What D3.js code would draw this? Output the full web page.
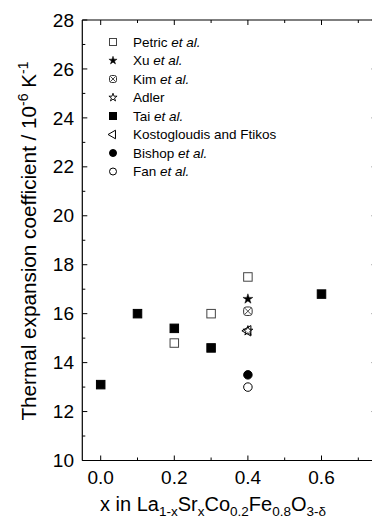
<!DOCTYPE html>
<html><head><meta charset="utf-8">
<script src="https://cdn.jsdelivr.net/npm/d3@7"></script>
<style>body{margin:0;background:#fff}svg{display:block;font-family:"Liberation Sans",Arial,sans-serif}</style>
</head><body>
<script>
const seriesNames = ["Petric", "Xu", "Kim", "Adler", "Tai", "Kostogloudis and Ftikos", "Bishop", "Fan"];
const seriesEtAl = [true, true, true, false, true, false, true, true];
const seriesShapes = ["openSquare", "filledStar", "crossedCircle", "openStar", "filledSquare", "openTriangleLeft", "filledCircle", "openCircle"];
const petricX = [0.2, 0.3, 0.4], petricY = [14.8, 16.0, 17.5];
const xuX = [0.4], xuY = [16.6];
const kimX = [0.4], kimY = [16.1];
const adlerX = [0.4], adlerY = [15.3];
const taiX = [0.0, 0.1, 0.2, 0.3, 0.6], taiY = [13.1, 16.0, 15.4, 14.6, 16.8];
const kostoX = [0.4], kostoY = [15.3];
const bishopX = [0.4], bishopY = [13.5];
const fanX = [0.4], fanY = [13.0];
const xTicks = [0.0, 0.2, 0.4, 0.6];
const yTicks = [10, 12, 14, 16, 18, 20, 22, 24, 26, 28];

const seriesData = [[petricX, petricY], [xuX, xuY], [kimX, kimY], [adlerX, adlerY], [taiX, taiY], [kostoX, kostoY], [bishopX, bishopY], [fanX, fanY]];

const W = 372, H = 527;
const svg = d3.select("body").append("svg").attr("width", W).attr("height", H);
const x = d3.scaleLinear().domain([-0.05, 0.75]).range([82.3, 376.7]);
const y = d3.scaleLinear().domain([10, 28]).range([460.5, 20]);

function drawSymbol(g, shape, cx, cy, s) {
  const el = g.append("g").attr("transform", `translate(${cx},${cy})`);
  const sw = 1;
  if (shape === "openSquare" || shape === "filledSquare") {
    el.append("rect").attr("x", -s/2).attr("y", -s/2).attr("width", s).attr("height", s)
      .attr("fill", shape === "filledSquare" ? "#000" : "#fff").attr("stroke", shape === "filledSquare" ? "#000" : "#444").attr("stroke-width", sw);
  } else if (shape === "filledStar" || shape === "openStar") {
    el.append("path").attr("d", d3.symbol(d3.symbolStar, s * s * 0.42)())
      .attr("fill", shape === "filledStar" ? "#000" : "#fff").attr("stroke", "#000").attr("stroke-width", shape === "filledStar" ? 0.5 : 0.9);
  } else if (shape === "crossedCircle") {
    const r = s / 2;
    el.append("rect").attr("x", -r).attr("y", -r).attr("width", 2*r).attr("height", 2*r).attr("rx", r*0.6)
      .attr("fill", "#fff").attr("stroke", "#333").attr("stroke-width", sw);
    const k = r * 0.7;
    el.append("path").attr("d", `M${-k},${-k}L${k},${k}M${-k},${k}L${k},${-k}`).attr("stroke", "#333").attr("stroke-width", 0.9);
  } else if (shape === "openTriangleLeft") {
    el.append("path").attr("d", d3.symbol(d3.symbolTriangle, s * s * 0.65)()).attr("transform", "rotate(-90)")
      .attr("fill", "none").attr("stroke", "#000").attr("stroke-width", sw);
  } else if (shape === "filledCircle" || shape === "openCircle") {
    el.append("circle").attr("r", s / 2).attr("fill", shape === "filledCircle" ? "#000" : "#fff")
      .attr("stroke", "#000").attr("stroke-width", sw);
  }
}

// axes frame
const frame = svg.append("g").attr("stroke", "#000").attr("stroke-width", 1.2).attr("fill", "none");
frame.append("line").attr("x1", x.range()[0]).attr("x2", x.range()[1]).attr("y1", y(10)).attr("y2", y(10));
frame.append("line").attr("x1", x.range()[0]).attr("x2", x.range()[1]).attr("y1", y(28)).attr("y2", y(28));
frame.append("line").attr("x1", x.range()[0]).attr("x2", x.range()[0]).attr("y1", y(10)).attr("y2", y(28));
frame.append("line").attr("x1", x.range()[1]).attr("x2", x.range()[1]).attr("y1", y(10)).attr("y2", y(28));

// ticks
const xMinor = d3.range(0, 0.75, 0.1);
const yMinor = d3.range(10, 28.5, 1);
const tk = svg.append("g").attr("stroke", "#000").attr("stroke-width", 1);
xMinor.forEach(v => {
  const major = xTicks.some(t => Math.abs(t - v) < 1e-6);
  const L = major ? 5 : 3;
  tk.append("line").attr("x1", x(v)).attr("x2", x(v)).attr("y1", y(10)).attr("y2", y(10) - L);
  tk.append("line").attr("x1", x(v)).attr("x2", x(v)).attr("y1", y(28)).attr("y2", y(28) + L);
});
yMinor.forEach(v => {
  const major = Math.round(v) % 2 === 0;
  const L = major ? 5 : 3;
  tk.append("line").attr("y1", y(v)).attr("y2", y(v)).attr("x1", x.range()[0]).attr("x2", x.range()[0] + L);
  tk.append("line").attr("y1", y(v)).attr("y2", y(v)).attr("x1", x.range()[1]).attr("x2", x.range()[1] - L);
});

// tick labels
svg.append("g").selectAll("text").data(xTicks).join("text")
  .attr("x", d => x(d)).attr("y", 484).attr("text-anchor", "middle").attr("font-size", 19)
  .text(d => d.toFixed(1));
svg.append("g").selectAll("text").data(yTicks).join("text")
  .attr("x", 74).attr("y", d => y(d)).attr("dy", "0.35em").attr("text-anchor", "end").attr("font-size", 19)
  .text(d => d);

// axis titles
const xt = svg.append("text").attr("x", 100).attr("y", 510.5).attr("text-anchor", "start").attr("font-size", 20);
const xtParts = [["x in La", false], ["1-x", true], ["Sr", false], ["x", true], ["Co", false], ["0.2", true], ["Fe", false], ["0.8", true], ["O", false], ["3-δ", true]];
xtParts.forEach(([t, sub], i) => {
  const prevSub = i > 0 && xtParts[i - 1][1];
  const ts = xt.append("tspan").text(t).attr("dy", sub ? 5 : (prevSub ? -5 : 0));
  if (sub) ts.attr("font-size", 13.5);
});

const yt = svg.append("text").attr("transform", "translate(35.5,241) rotate(-90)").attr("text-anchor", "middle").attr("font-size", 20.7);
yt.append("tspan").text("Thermal expansion coefficient / 10");
yt.append("tspan").text("-6").attr("font-size", 14).attr("dy", -8);
yt.append("tspan").text(" K").attr("dy", 8);
yt.append("tspan").text("-1").attr("font-size", 14).attr("dy", -8);

// data points
const pts = svg.append("g");
seriesData.forEach(([xs, ys], i) => {
  xs.forEach((xv, j) => drawSymbol(pts, seriesShapes[i], x(xv), y(ys[j]), 8.5));
});

// legend
const lg = svg.append("g");
seriesNames.forEach((name, i) => {
  const cy = 42 + i * 18.5;
  drawSymbol(lg, seriesShapes[i], 113, cy, 7);
  const t = lg.append("text").attr("x", 133).attr("y", cy).attr("dy", "0.36em").attr("font-size", 13.5);
  t.append("tspan").text(name + (seriesEtAl[i] ? " " : ""));
  if (seriesEtAl[i]) t.append("tspan").attr("font-style", "italic").text("et al.");
});
</script>
</body></html>
